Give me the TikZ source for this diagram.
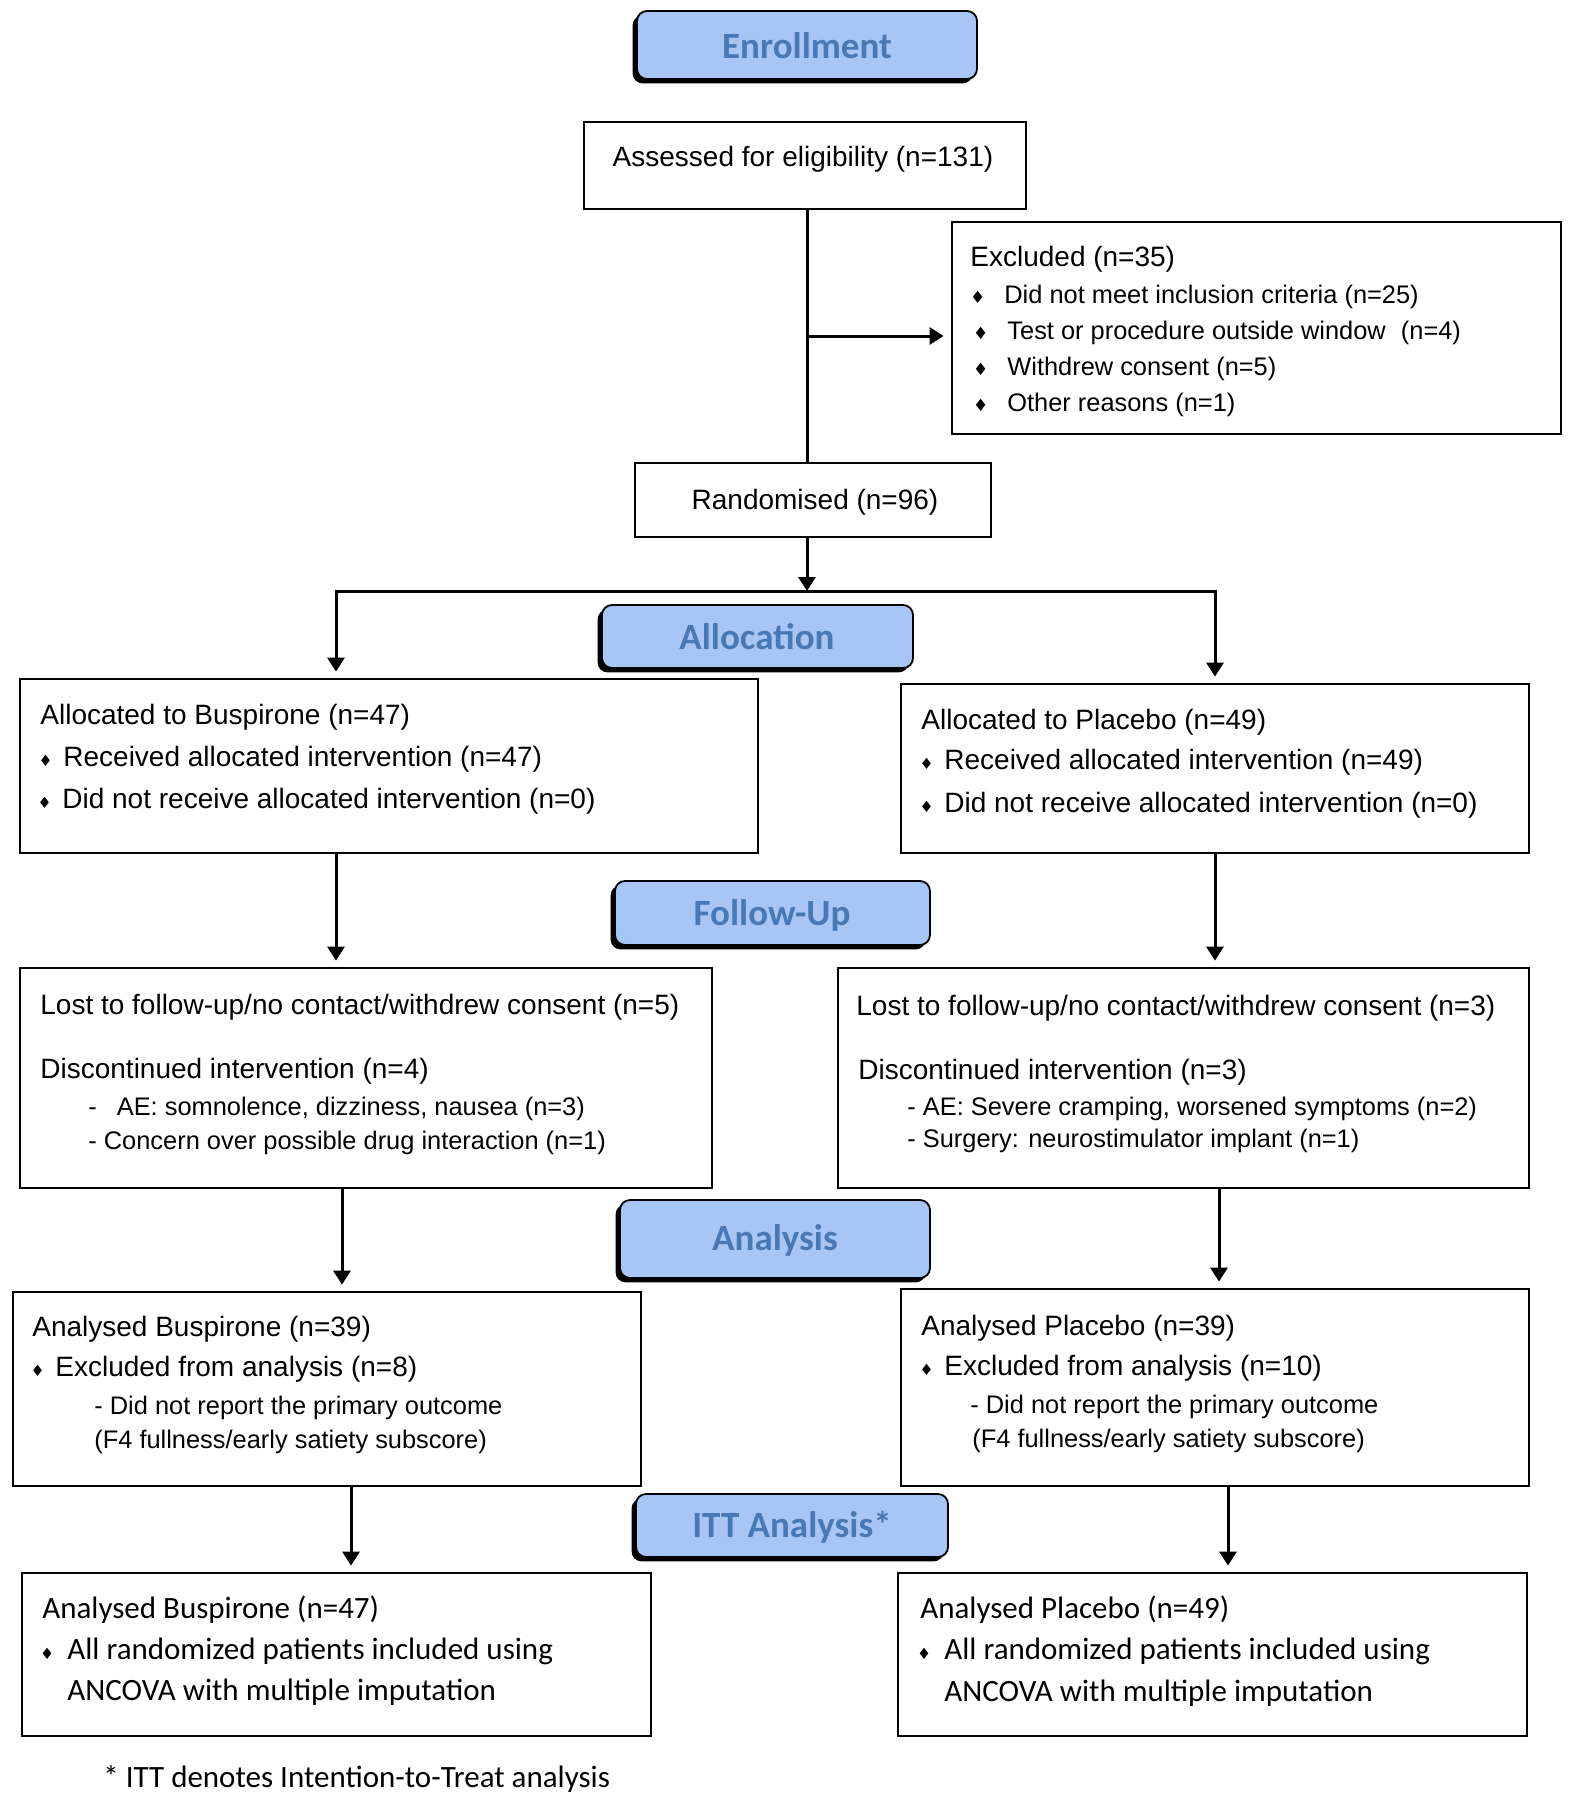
\documentclass[tikz,border=0pt]{standalone}
\usepackage{fontspec}
\setmainfont{Liberation Sans}
\newfontfamily\carl{Carlito}
\newfontfamily\djv{DejaVu Sans}
\usetikzlibrary{fit,arrows.meta}
\definecolor{hdrfill}{RGB}{168,198,245}
\definecolor{hdrtext}{RGB}{74,120,180}
\newcommand{\bulS}{\llap{{\djv\fontsize{7.8}{8}\selectfont ♦}\hspace{5.4pt}}}
\newcommand{\bulC}{\llap{{\djv\fontsize{7.8}{8}\selectfont ♦}\hspace{6.6pt}}}
\newcommand{\bulX}{\llap{{\djv\fontsize{8.5}{8.5}\selectfont ♦}\hspace{9.5pt}}}
\begin{document}
\begin{tikzpicture}[x=0.5pt,y=-0.5pt,
  box/.style={draw=black, line width=1.4pt, inner sep=0pt, rectangle},
  hdr/.style={draw=black, line width=0.9pt, fill=hdrfill, rounded corners=5pt,
    inner sep=0pt,
    preaction={fill=black, transform canvas={xshift=-2.2pt,yshift=-2.2pt}}},
  hdrt/.style={inner sep=0pt, text=hdrtext, font=\carl\bfseries\fontsize{18.5}{20}\selectfont},
  ct/.style={inner sep=0pt, font=\fontsize{14}{16}\selectfont},
  t/.style={anchor=base west, inner sep=0pt, font=\fontsize{14}{16}\selectfont},
  ts/.style={anchor=base west, inner sep=0pt, font=\fontsize{12.7}{14}\selectfont},
  tc/.style={anchor=base west, inner sep=0pt, font=\carl\fontsize{15.5}{17}\selectfont},
  ln/.style={line width=1.5pt, line cap=rect},
  arr/.style={line width=1.5pt, -{Triangle[width=8.5pt,length=7pt]}, shorten >=3pt}]
\useasboundingbox (0,0) rectangle (1574,1800);

% headers
\node[hdr, fit={(637,11) (977,79)}] (enr) {};
\node[hdr, fit={(602,605) (913,668)}] (alh) {};
\node[hdr, fit={(615,881) (930,945)}] (fuh) {};
\node[hdr, fit={(620,1200) (930,1278)}] (anh) {};
\node[hdr, fit={(636,1494) (948,1557)}] (itth) {};
\node[hdrt, anchor=base] (enrt) at (807,58) {Enrollment};
\node[hdrt, anchor=base] (alht) at (757,649) {Allocation};
\node[hdrt, anchor=base] (fuht) at (772,925) {Follow-Up};
\node[hdrt, anchor=base] (anht) at (775,1250) {Analysis};
\node[hdrt, anchor=base] (itht) at (792,1537) {ITT Analysis*};

% boxes
\node[box, fit={(584,122) (1026,209)}] (ass) {};
\node[box, fit={(952,222) (1561,434)}] (excl) {};
\node[box, fit={(635,463) (991,537)}] (rand) {};
\node[box, fit={(20,679) (758,853)}] (al1) {};
\node[box, fit={(901,684) (1529,853)}] (al2) {};
\node[box, fit={(20,968) (712,1188)}] (lo1) {};
\node[box, fit={(838,968) (1529,1188)}] (lo2) {};
\node[box, fit={(13,1292) (641,1486)}] (an1) {};
\node[box, fit={(901,1289) (1529,1486)}] (an2) {};
\node[box, fit={(22,1573) (651,1736)}] (it1) {};
\node[box, fit={(898,1573) (1527,1736)}] (it2) {};

\node[ct, anchor=base] (asst) at (803,166) {Assessed for eligibility (n=131)};
\node[ct, anchor=base] (randt) at (815,509) {Randomised (n=96)};

% excluded text
\node[t] (ex0) at (970,266) {Excluded (n=35)};
\node[ts] (ex1) at (1004,303) {\bulX Did not meet inclusion criteria (n=25)};
\node[ts] (ex2) at (1007,339) {\bulX Test or procedure outside window\hspace{0.6em}(n=4)};
\node[ts] (ex3) at (1007,375) {\bulX Withdrew consent (n=5)};
\node[ts] (ex4) at (1007,411) {\bulX Other reasons (n=1)};

% allocation text
\node[t] (a10) at (40,724) {Allocated to Buspirone (n=47)};
\node[t] (a11) at (63,766) {\bulS Received allocated intervention (n=47)};
\node[t] (a12) at (62,808) {\bulS Did not receive allocated intervention (n=0)};
\node[t] (a20) at (921,729) {Allocated to Placebo (n=49)};
\node[t] (a21) at (944,769) {\bulS Received allocated intervention (n=49)};
\node[t] (a22) at (944,812) {\bulS Did not receive allocated intervention (n=0)};

% follow-up text
\node[t] (l10) at (40,1014) {Lost to follow-up/no contact/withdrew consent (n=5)};
\node[t] (l11) at (40,1078) {Discontinued intervention (n=4)};
\node[ts] (l12) at (88,1115) {-\hspace{10pt}AE: somnolence, dizziness, nausea (n=3)};
\node[ts] (l13) at (88,1149) {- Concern over possible drug interaction (n=1)};
\node[t] (l20) at (856,1015) {Lost to follow-up/no contact/withdrew consent (n=3)};
\node[t] (l21) at (858,1079) {Discontinued intervention (n=3)};
\node[ts] (l22) at (907,1115) {- AE: Severe cramping, worsened symptoms (n=2)};
\node[ts] (l23) at (907,1147) {- Surgery: neurostimulator implant (n=1)};

% analysis text
\node[t] (n10) at (32,1336) {Analysed Buspirone (n=39)};
\node[t] (n11) at (55,1376) {\bulS Excluded from analysis (n=8)};
\node[ts] (n12) at (94,1414) {- Did not report the primary outcome};
\node[ts] (n13) at (94,1448) {(F4 fullness/early satiety subscore)};
\node[t] (n20) at (921,1335) {Analysed Placebo (n=39)};
\node[t] (n21) at (944,1375) {\bulS Excluded from analysis (n=10)};
\node[ts] (n22) at (970,1413) {- Did not report the primary outcome};
\node[ts] (n23) at (972,1447) {(F4 fullness/early satiety subscore)};

% ITT text
\node[tc] (i10) at (42,1618) {Analysed Buspirone (n=47)};
\node[tc] (i11) at (67,1659) {\bulC All randomized patients included using};
\node[tc] (i12) at (67,1700) {ANCOVA with multiple imputation};
\node[tc] (i20) at (920,1618) {Analysed Placebo (n=49)};
\node[tc] (i21) at (944,1659) {\bulC All randomized patients included using};
\node[tc] (i22) at (944,1701) {ANCOVA with multiple imputation};

\node[tc] (foot) at (103,1787) {* ITT denotes Intention-to-Treat analysis};

% connectors
\coordinate (mx) at (807,0);
\coordinate (ey) at (0,336);
\coordinate (bL) at (336,591);
\coordinate (bR) at (1215,591);
\coordinate (cL) at (342,0);
\coordinate (cR) at (1219,0);
\coordinate (dL) at (351,0);
\coordinate (dR) at (1228,0);

\draw[ln] (ass.south -| mx) -- (rand.north -| mx);
\draw[arr, shorten >=3.5pt] (ey -| mx) -- (ey -| excl.west);
\draw[arr, shorten >=0pt] (rand.south -| mx) -- (mx |- bL);
\draw[ln] (bL) -- (bR);
\draw[arr] (bL) -- (bL |- al1.north);
\draw[arr] (bR) -- (bR |- al2.north);
\draw[arr] (al1.south -| bL) -- (lo1.north -| bL);
\draw[arr] (al2.south -| bR) -- (lo2.north -| bR);
\draw[arr] (lo1.south -| cL) -- (an1.north -| cL);
\draw[arr] (lo2.south -| cR) -- (an2.north -| cR);
\draw[arr] (an1.south -| dL) -- (it1.north -| dL);
\draw[arr] (an2.south -| dR) -- (it2.north -| dR);
\end{tikzpicture}
\end{document}
